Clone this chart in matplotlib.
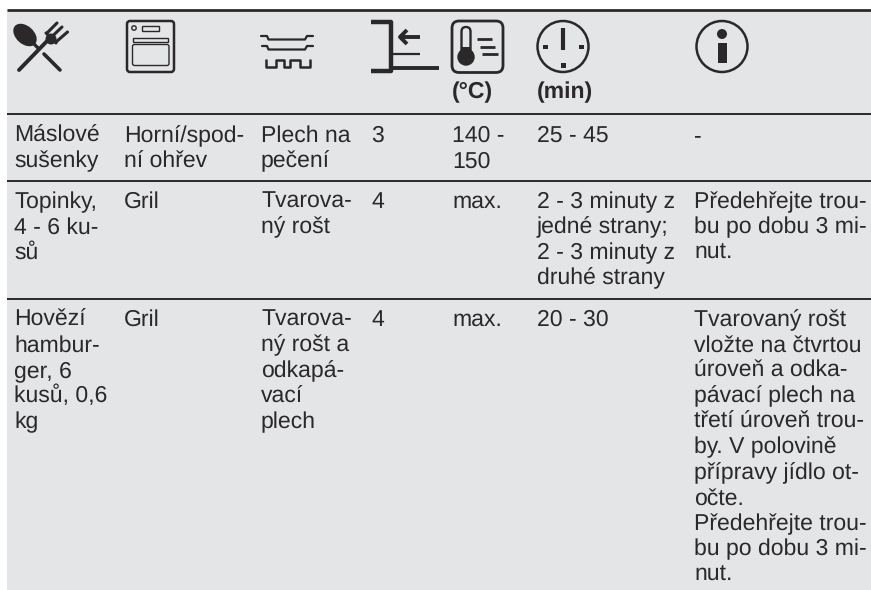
import matplotlib
matplotlib.use("Agg")
from matplotlib import pyplot as plt
from matplotlib.patches import Circle, FancyBboxPatch, Rectangle, Ellipse

GREY = "#e4e5e7"
INK = "#2a2829"

column_x = [14, 124, 261, 371, 452, 537, 694]
row_baseline = [142, 208, 326]
separators_y = [114, 181, 299]
line_height = 25.5

food = ["Máslové\nsušenky", "Topinky,\n4 - 6 ku-\nsů", "Hovězí\nhambur-\nger, 6\nkusů, 0,6\nkg"]
mode = ["Horní/spod-\nní ohřev", "Gril", "Gril"]
accessory = ["Plech na\npečení", "Tvarova-\nný rošt", "Tvarova-\nný rošt a\nodkapá-\nvací\nplech"]
level = ["3", "4", "4"]
temperature = ["140 -\n150", "max.", "max."]
duration = ["25 - 45", "2 - 3 minuty z\njedné strany;\n2 - 3 minuty z\ndruhé strany", "20 - 30"]
notes = [
    "-",
    "Předehřejte trou-\nbu po dobu 3 mi-\nnut.",
    "Tvarovaný rošt\nvložte na čtvrtou\núroveň a odka-\npávací plech na\ntřetí úroveň trou-\nby. V polovině\npřípravy jídlo ot-\nočte.\nPředehřejte trou-\nbu po dobu 3 mi-\nnut.",
]
columns = [food, mode, accessory, level, temperature, duration, notes]

plt.rcParams["font.family"] = ["Liberation Sans", "DejaVu Sans"]
plt.rcParams["text.hinting"] = "no_hinting"
plt.rcParams["text.hinting_factor"] = 1
fig = plt.figure(figsize=(8.71, 5.90), dpi=100)
ax = fig.add_axes([0, 0, 1, 1])
ax.set_xlim(0, 871)
ax.set_ylim(590, 0)
ax.axis("off")

# background and rules
ax.add_patch(Rectangle((7, 10), 864, 579.5, color=GREY, lw=0))
ax.plot([7, 871], [10, 10], color=INK, lw=2.0, solid_capstyle="butt")
for y in separators_y:
    ax.plot([7, 871], [y, y], color=INK, lw=1.4, solid_capstyle="butt")

# table text
for col, x in zip(columns, column_x):
    for cell, y in zip(col, row_baseline):
        for i, row_text in enumerate(cell.split("\n")):
            ax.text(x, y + i * line_height, row_text, fontsize=16.5, color=INK, va="baseline", ha="left")

ax.text(452, 98, "(°C)", fontsize=16.5, fontweight="bold", color=INK, va="baseline")
ax.text(537, 98, "(min)", fontsize=16.5, fontweight="bold", color=INK, va="baseline")


def stroke(xs, ys, lw=2.0, cap="round"):
    ax.plot(xs, ys, color=INK, lw=lw, solid_capstyle=cap, solid_joinstyle="round")


# cutlery icon
ax.add_patch(Ellipse((25, 35), 27, 18, angle=42, color=INK, lw=0))
stroke([33, 39], [43, 49], lw=2.4, cap="butt")
stroke([44, 60], [54, 70], lw=2.6)
stroke([19, 49], [70, 39], lw=2.8)
ax.add_patch(Circle((51, 39), 5.5, color=INK, lw=0))
stroke([47, 57], [33, 23], lw=2.2)
stroke([51.5, 62], [37, 27], lw=2.2)
stroke([56, 67.5], [42, 32], lw=2.2)
stroke([46, 56], [33, 43], lw=2.2)

# oven icon
ax.add_patch(FancyBboxPatch((127, 21), 47, 51, boxstyle="round,pad=0,rounding_size=3", fc="none", ec=INK, lw=1.8))
ax.add_patch(Circle((134, 28), 2.2, fc="none", ec=INK, lw=1.0))
ax.add_patch(Rectangle((142, 26), 17, 4.5, fc="none", ec=INK, lw=1.0))
ax.add_patch(Rectangle((133, 37.5), 35, 4, fc="none", ec=INK, lw=1.0))
ax.add_patch(FancyBboxPatch((132.5, 44.5), 36.5, 21, boxstyle="round,pad=0,rounding_size=2", fc="none", ec=INK, lw=1.0))

# tray and rack icon
stroke([261, 267, 268.5, 305, 307, 313], [36, 36, 39.5, 39.5, 36, 36], lw=1.6)
stroke([262, 267, 268.5, 305, 307, 313], [46, 46, 49.5, 49.5, 46, 46], lw=1.6)
stroke([266, 266, 276, 276, 284, 284, 290, 290, 300, 300, 310, 310],
       [59, 67, 67, 59.5, 59.5, 67, 67, 59.5, 59.5, 67, 67, 59], lw=1.8, cap="butt")

# shelf level icon
stroke([371, 391, 391, 371], [21.5, 21.5, 71, 71], lw=3.2, cap="butt")
stroke([391, 420], [53.5, 53.5], lw=1.6, cap="butt")
stroke([391, 439], [67.5, 67.5], lw=2.8, cap="butt")
stroke([400, 420], [37, 37], lw=2.8, cap="butt")
stroke([407, 400, 407], [30, 37, 44], lw=2.8, cap="butt")

# thermometer icon
ax.add_patch(FancyBboxPatch((452, 21), 51, 51.5, boxstyle="round,pad=0,rounding_size=7", fc="none", ec=INK, lw=2.0))
ax.add_patch(Circle((466, 57), 8.7, color=INK, lw=0))
ax.add_patch(FancyBboxPatch((461.5, 27), 9, 30, boxstyle="round,pad=0,rounding_size=4.5", fc="none", ec=INK, lw=1.7))
ax.add_patch(Rectangle((461.5, 47), 9, 11, color=INK, lw=0))
stroke([477, 492], [39, 39], lw=2.0, cap="butt")
stroke([480, 495], [47, 47], lw=2.0, cap="butt")
stroke([482, 498], [53.5, 53.5], lw=2.0, cap="butt")

# clock icon
ax.add_patch(Circle((563, 46.5), 25.5, fc="none", ec=INK, lw=1.8))
stroke([563, 563], [28, 50], lw=3.0, cap="butt")
ax.add_patch(Rectangle((543, 44.5), 4.5, 4.5, color=INK, lw=0))
ax.add_patch(Rectangle((579, 44.5), 4.5, 4.5, color=INK, lw=0))
ax.add_patch(Rectangle((561, 63), 4.5, 4.5, color=INK, lw=0))

# info icon
ax.add_patch(Circle((722, 46.5), 25.5, fc="none", ec=INK, lw=1.8))
ax.add_patch(Circle((722, 34), 5, color=INK, lw=0))
ax.add_patch(Rectangle((718, 43), 8.5, 20, color=INK, lw=0))

fig.savefig("out.png", dpi=100)
